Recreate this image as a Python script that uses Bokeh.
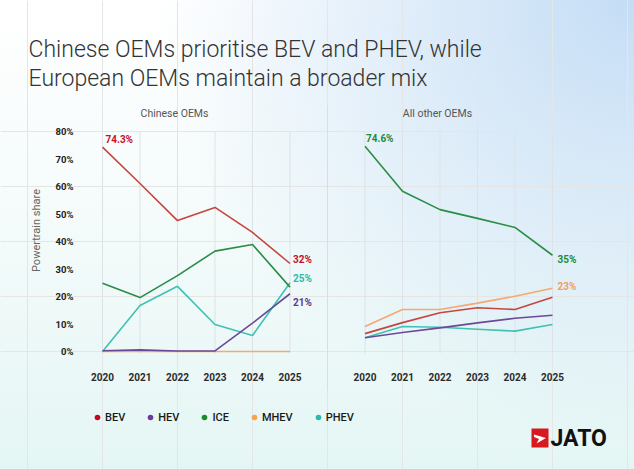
from bokeh.plotting import figure
from bokeh.models import (ColumnDataSource, LinearAxis, FixedTicker, Label, Legend,
                          LegendItem, BoxAnnotation, PolyAnnotation, Range1d)
from bokeh.embed import file_html
from bokeh.resources import INLINE

# ---------------------------------------------------------------- data
years = [2020, 2021, 2022, 2023, 2024, 2025]
series = ["BEV", "HEV", "ICE", "MHEV", "PHEV"]
y_ticks = [0, 10, 20, 30, 40, 50, 60, 70, 80]

# Chinese OEMs, powertrain share (%)
cn_bev = [74.3, 61.1, 47.6, 52.4, 43.3, 32]
cn_hev = [0.3, 0.6, 0.2, 0.2, 10.3, 21]
cn_ice = [24.8, 19.6, 27.6, 36.5, 38.9, 23.4]
cn_mhev = [0, 0, 0, 0, 0, 0]
cn_phev = [0, 16.7, 23.7, 9.8, 5.8, 25]

# All other OEMs, powertrain share (%)
ot_bev = [6.5, 10.5, 14.1, 15.9, 15.3, 19.7]
ot_hev = [5.0, 6.9, 8.6, 10.4, 12.1, 13.2]
ot_ice = [74.6, 58.3, 51.6, 48.4, 45.1, 35]
ot_mhev = [9.1, 15.3, 15.3, 17.6, 20.1, 23]
ot_phev = [5.0, 9.1, 8.8, 8.1, 7.4, 9.8]

panel_titles = ["Chinese OEMs", "All other OEMs"]

# ---------------------------------------------------------------- styling
line_colors = {"BEV": "#c4463f", "HEV": "#6a4a96", "ICE": "#2a8c45",
               "MHEV": "#f5a870", "PHEV": "#40c2b3"}
label_colors = {"BEV": "#c8102e", "HEV": "#5c3d8f", "ICE": "#1e8c3a",
                "MHEV": "#f2a05a", "PHEV": "#2bbcae"}
dot_colors = {"BEV": "#d0021b", "HEV": "#6a3d9a", "ICE": "#1b8a2e",
              "MHEV": "#f7a44c", "PHEV": "#2cb8ad"}

W, H = 634, 469
X0_PX, PX_PER_YEAR = 102, 37.5      # pixel position of the first year, spacing
Y0_PX, PX_PER_PCT = 351, 2.75       # pixel position of 0 %, pixels per percent
PANEL_SHIFT = 7                     # second panel starts 7 slots to the right


def px_x(px):
    return (px - X0_PX) / PX_PER_YEAR


def px_y(px):
    return (Y0_PX - px) / PX_PER_PCT


p = figure(width=W, height=H, output_backend="svg", toolbar_location=None,
           title=None, x_axis_location=None, y_axis_location=None,
           x_range=Range1d(px_x(0), px_x(W)), y_range=Range1d(px_y(H), px_y(0)),
           min_border=0, min_border_left=0, min_border_right=0,
           min_border_top=0, min_border_bottom=0)
p.outline_line_color = None
p.background_fill_alpha = 0
p.border_fill_alpha = 0
p.styles = {
    "background": (
        "radial-gradient(ellipse 75% 95% at 100% 0%, rgba(196,221,245,1) 0%, "
        "rgba(196,221,245,0.55) 45%, rgba(196,221,245,0) 100%), "
        "linear-gradient(180deg, #ffffff 0%, #f5fbfb 45%, #e4f6f4 100%)"
    )
}

positions = [list(range(len(years))), [i + PANEL_SHIFT for i in range(len(years))]]
all_pos = positions[0] + positions[1]

# vertical guides at each year
p.segment(x0=all_pos, y0=[-0.7] * len(all_pos), x1=all_pos, y1=[y_ticks[-1]] * len(all_pos),
          line_color="#dde2e7", line_width=1)
# divider between the two panels
p.segment(x0=[px_x(327)], y0=[px_y(390)], x1=[px_x(327)], y1=[px_y(105)],
          line_color="#d8dee3", line_width=1)

panels = [
    {"BEV": cn_bev, "HEV": cn_hev, "ICE": cn_ice, "MHEV": cn_mhev, "PHEV": cn_phev},
    {"BEV": ot_bev, "HEV": ot_hev, "ICE": ot_ice, "MHEV": ot_mhev, "PHEV": ot_phev},
]
draw_order = ["MHEV", "PHEV", "ICE", "BEV", "HEV"]
for xs, data in zip(positions, panels):
    for s in draw_order:
        src = ColumnDataSource(dict(x=xs, y=data[s]))
        p.line("x", "y", source=src, line_color=line_colors[s], line_width=1.6)

# axes
yax = LinearAxis(fixed_location=px_x(80), ticker=FixedTicker(ticks=y_ticks),
                 bounds=(0, 88), axis_label="Powertrain share",
                 major_label_overrides={t: f"{t}%" for t in y_ticks})
yax.axis_line_color = None
yax.major_tick_line_color = None
yax.minor_tick_line_color = None
yax.major_tick_out = 0
yax.major_tick_in = 0
yax.minor_tick_out = 0
yax.major_label_standoff = 7
yax.major_label_text_font = "Roboto"
yax.major_label_text_font_style = "bold"
yax.major_label_text_font_size = "9.5px"
yax.major_label_text_color = "#222222"
yax.axis_label_standoff = 10
yax.axis_label_text_font = "Roboto"
yax.axis_label_text_font_style = "normal"
yax.axis_label_text_font_size = "11px"
yax.axis_label_text_color = "#666666"
p.add_layout(yax, "left")

xax = LinearAxis(fixed_location=px_y(362), ticker=FixedTicker(ticks=all_pos),
                 major_label_overrides={pos: str(yr) for xs in positions
                                        for pos, yr in zip(xs, years)})
xax.axis_line_color = None
xax.major_tick_line_color = None
xax.minor_tick_line_color = None
xax.major_tick_out = 0
xax.major_tick_in = 0
xax.minor_tick_out = 0
xax.major_label_standoff = 10
xax.major_label_text_font = "Roboto"
xax.major_label_text_font_style = "bold"
xax.major_label_text_font_size = "10px"
xax.major_label_text_color = "#2b2b2b"
p.add_layout(xax, "below")

# end-point value labels
value_labels = [
    (0, "BEV", 0, 3, 8), (0, "BEV", 5, 3, 4), (0, "PHEV", 5, 3, 4.5), (0, "HEV", 5, 3, -8.5),
    (1, "ICE", 0, 1, 8), (1, "ICE", 5, 5, -4), (1, "MHEV", 5, 5, 2),
]
for panel, s, i, dx, dy in value_labels:
    v = panels[panel][s][i]
    p.add_layout(Label(x=positions[panel][i], y=v, text=f"{v:g}%", x_offset=dx, y_offset=dy,
                       text_font="Roboto", text_font_style="bold", text_font_size="10px",
                       text_color=label_colors[s], text_align="left", text_baseline="middle"))

# titles (weight 300 carried in the font size string)
for line_text, base in [("Chinese OEMs prioritise BEV and PHEV, while", 49),
                        ("European OEMs maintain a broader mix", 78)]:
    p.add_layout(Label(x=px_x(28), y=px_y(base), text=line_text, text_font="Roboto",
                       text_font_size="300 23px", text_color="#333333",
                       text_align="left", text_baseline="alphabetic"))
for t, cx in zip(panel_titles, [174, 437]):
    p.add_layout(Label(x=px_x(cx), y=px_y(113), text=t, text_font="Roboto",
                       text_font_size="10.5px", text_color="#555555",
                       text_align="center", text_baseline="middle"))

# legend with round markers (marker size 0 on the plot itself)
items = []
for s in series:
    src = ColumnDataSource(dict(x=positions[0], y=panels[0][s]))
    r = p.scatter("x", "y", source=src, marker="circle", size=0,
                  fill_color=dot_colors[s], line_color=None)
    items.append(LegendItem(label=s, renderers=[r]))
legend = Legend(items=items, location=(90, 45), orientation="horizontal",
                glyph_width=14, glyph_height=14, label_standoff=1, spacing=18,
                padding=0, margin=0, border_line_color=None, background_fill_alpha=0,
                label_text_font="Roboto", label_text_font_size="500 11px",
                label_text_color="#1a1a1a", label_height=12, label_width=0)
p.add_layout(legend)

# brand mark
p.add_layout(BoxAnnotation(left=px_x(531), right=px_x(548), top=px_y(428), bottom=px_y(447),
                           fill_color="#d71920", fill_alpha=1, line_color=None))
arrow_px = [(533.5, 434), (545.5, 437.5), (536, 443), (538.5, 438.5), (533.5, 436.5)]
p.add_layout(PolyAnnotation(xs=[px_x(a) for a, _ in arrow_px], ys=[px_y(b) for _, b in arrow_px],
                            fill_color="white", fill_alpha=1, line_color=None))
p.add_layout(Label(x=px_x(550), y=px_y(438), text="JATO", text_font="Roboto",
                   text_font_style="bold", text_font_size="23px", text_color="#111111",
                   text_align="left", text_baseline="middle"))

open("out.html", "w").write(file_html(p, INLINE))
